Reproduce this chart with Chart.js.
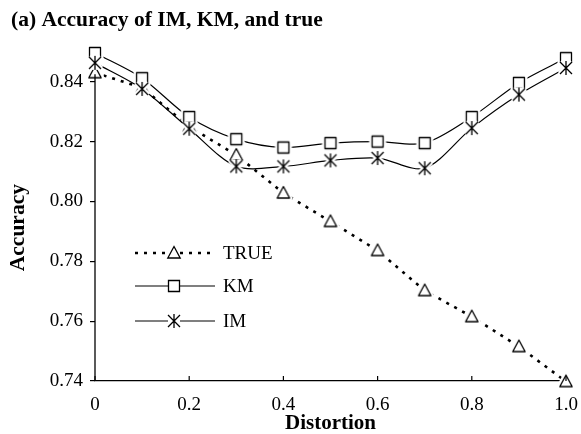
<!DOCTYPE html>
<html>
<head>
<meta charset="utf-8">
<script src="https://cdn.jsdelivr.net/npm/chart.js@4.4.1/dist/chart.umd.min.js"></script>
<style>
  html, body { margin: 0; padding: 0; background: #fff; }
  #wrap { width: 581px; height: 434px; }
</style>
</head>
<body>
<div id="wrap"><canvas id="accChart"></canvas></div>
<script>
let distortion = [0, 0.1, 0.2, 0.3, 0.4, 0.5, 0.6, 0.7, 0.8, 0.9, 1.0];
let trueAcc = [0.843, 0.838, 0.825, 0.8155, 0.8028, 0.7933, 0.7836, 0.7702, 0.7615, 0.7515, 0.7398];
let kmAcc = [0.8496, 0.8412, 0.8282, 0.8208, 0.818, 0.8195, 0.820, 0.8195, 0.8282, 0.8396, 0.8479];
let imAcc = [0.8463, 0.8376, 0.8243, 0.8117, 0.8117, 0.8137, 0.8145, 0.8111, 0.8245, 0.8357, 0.8446];
let xTicks = [0, 0.2, 0.4, 0.6, 0.8, 1.0];
let yTicks = [0.74, 0.76, 0.78, 0.80, 0.82, 0.84];
let yAxisTop = 0.8425;

const serif = "'Liberation Serif', 'DejaVu Serif', serif";

// open markers drawn on small canvases, with a white halo so lines stop short
function makeMarker(kind, halo) {
  let c = document.createElement('canvas');
  c.width = 26; c.height = 26;
  let g = c.getContext('2d');
  g.translate(13, 13);
  let path = () => {
    g.beginPath();
    if (kind == 'tri') {
      g.moveTo(0, -6.5); g.lineTo(6.2, 5); g.lineTo(-6.2, 5); g.closePath();
    } else if (kind == 'sq') {
      g.rect(-5.5, -5.5, 11, 11);
    } else {
      g.moveTo(-6, -6); g.lineTo(6, 6);
      g.moveTo(6, -6); g.lineTo(-6, 6);
      g.moveTo(0, -7); g.lineTo(0, 7);
    }
  };
  if (halo) {
    g.strokeStyle = '#fff'; g.lineWidth = 6; g.lineJoin = 'round';
    path(); g.stroke();
    if (kind != 'star') { g.fillStyle = '#fff'; g.fill(); }
  }
  g.strokeStyle = '#000'; g.lineWidth = 1.3;
  path();
  if (kind != 'star') { g.fillStyle = '#fff'; g.fill(); }
  g.stroke();
  return c;
}

let triPt = makeMarker('tri', true), sqPt = makeMarker('sq', true), starPt = makeMarker('star', true);
let legendItems = [
  { label: 'TRUE', dash: [3, 6], width: 2.6, img: makeMarker('tri', false) },
  { label: 'KM', dash: [], width: 1.2, img: makeMarker('sq', false) },
  { label: 'IM', dash: [], width: 1.2, img: makeMarker('star', false) }
];

const extras = {
  id: 'extras',
  afterDraw(chart) {
    let { ctx, chartArea: a, scales: { x, y } } = chart;
    let yBot = y.getPixelForValue(0.74), yTop = y.getPixelForValue(yAxisTop);
    ctx.save();
    ctx.strokeStyle = '#000';
    // left axis line stops a little below the top of the plot
    ctx.lineWidth = 1.3;
    ctx.beginPath();
    ctx.moveTo(a.left, yBot);
    ctx.lineTo(a.left, yTop);
    ctx.stroke();
    ctx.lineWidth = 1.2;
    xTicks.forEach(v => {
      let px = x.getPixelForValue(v);
      ctx.beginPath();
      ctx.moveTo(px, a.bottom);
      ctx.lineTo(px, a.bottom - 5);
      ctx.stroke();
    });
    // y axis title, centred on the axis line
    ctx.save();
    ctx.translate(18, (yBot + yTop) / 2);
    ctx.rotate(-Math.PI / 2);
    ctx.fillStyle = '#000';
    ctx.font = 'bold 21.5px ' + serif;
    ctx.textAlign = 'center';
    ctx.textBaseline = 'middle';
    ctx.fillText('Accuracy', 0, 0);
    ctx.restore();
    // legend inside the plot
    let rows = [253, 286, 321];
    legendItems.forEach((it, i) => {
      let ly = rows[i];
      ctx.setLineDash(it.dash);
      ctx.lineWidth = it.width;
      ctx.beginPath();
      ctx.moveTo(a.left + 40, ly);
      ctx.lineTo(a.left + 120, ly);
      ctx.stroke();
      ctx.setLineDash([]);
      ctx.clearRect(a.left + 73, ly - 7, 12, 14);
      ctx.drawImage(it.img, a.left + 79 - 13, ly - 13);
      ctx.fillStyle = '#000';
      ctx.font = '19px ' + serif;
      ctx.textBaseline = 'middle';
      ctx.fillText(it.label, a.left + 128, ly + 1);
    });
    ctx.restore();
  }
};

let ctx = document.getElementById('accChart').getContext('2d');

let myChart = new Chart(ctx, {
  type: 'line',
  data: {
    labels: distortion,
    datasets: [
      {
        label: 'IM',
        data: distortion.map((d, i) => ({ x: d, y: imAcc[i] })),
        borderColor: '#000',
        borderWidth: 1.2,
        tension: 0.3,
        pointStyle: starPt,
        clip: false
      },
      {
        label: 'KM',
        data: distortion.map((d, i) => ({ x: d, y: kmAcc[i] })),
        borderColor: '#000',
        borderWidth: 1.2,
        tension: 0.3,
        pointStyle: sqPt,
        clip: false
      },
      {
        label: 'TRUE',
        data: distortion.map((d, i) => ({ x: d, y: trueAcc[i] })),
        borderColor: '#000',
        borderWidth: 2.6,
        borderDash: [3, 6],
        tension: 0,
        pointStyle: triPt,
        clip: false
      }
    ]
  },
  options: {
    responsive: true,
    maintainAspectRatio: false,
    animation: false,
    devicePixelRatio: 1,
    layout: { padding: { left: 11, right: 15, top: 0, bottom: 0 } },
    plugins: {
      legend: { display: false },
      tooltip: { enabled: false },
      title: {
        display: true,
        text: '(a) Accuracy of IM, KM, and true',
        align: 'start',
        color: '#000',
        font: { family: serif, size: 21.5, weight: 'bold', lineHeight: 1.2 },
        padding: { top: 8, bottom: 15 }
      }
    },
    scales: {
      x: {
        type: 'linear',
        min: 0,
        max: 1,
        afterBuildTicks: s => { s.ticks = xTicks.map(v => ({ value: v })); },
        afterFit: s => { s.height = 53; s.paddingLeft = 0; s.paddingRight = 0; },
        grid: { drawOnChartArea: false, drawTicks: false },
        border: { display: true, color: '#000', width: 1.3 },
        ticks: {
          color: '#000',
          padding: 13,
          maxRotation: 0,
          font: { family: serif, size: 19 },
          callback: v => v === 0 ? '0' : v.toFixed(1)
        },
        title: {
          display: true,
          text: 'Distortion',
          color: '#000',
          font: { family: serif, size: 21, weight: 'bold', lineHeight: 1 },
          padding: { top: 0, bottom: 0 }
        }
      },
      y: {
        min: 0.74,
        max: 0.851,
        afterBuildTicks: s => { s.ticks = yTicks.map(v => ({ value: v })); },
        afterFit: s => { s.width = 84; },
        grid: { drawOnChartArea: false, drawTicks: true, tickLength: 5, color: '#000', lineWidth: 1.2 },
        border: { display: false },
        ticks: {
          color: '#000',
          padding: 7,
          font: { family: serif, size: 19 },
          callback: v => v.toFixed(2)
        },
        title: { display: false }
      }
    }
  },
  plugins: [extras]
});
</script>
</body>
</html>
